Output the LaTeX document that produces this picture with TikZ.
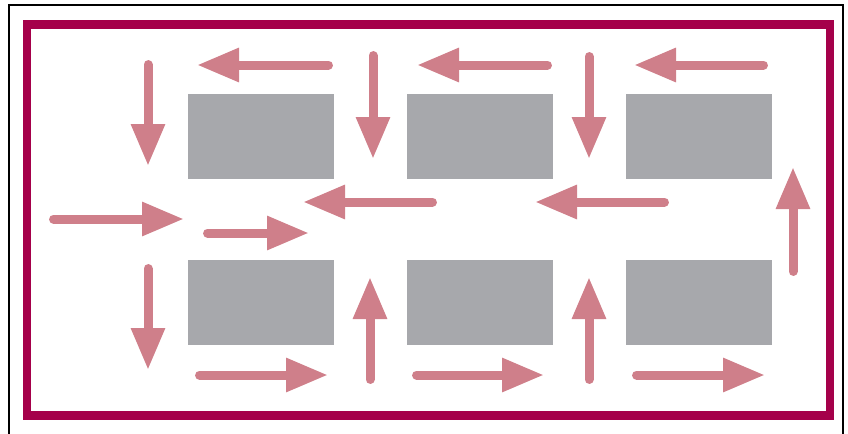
\documentclass[tikz,border=0pt]{standalone}
\usetikzlibrary{arrows.meta}
\definecolor{framered}{HTML}{A5004A}
\definecolor{flowpink}{HTML}{CF7F8A}
\definecolor{boxgray}{HTML}{A7A8AC}
\begin{document}
\begin{tikzpicture}[
  x=0.75pt, y=-0.75pt,
  bay/.style={fill=boxgray, inner sep=0pt, minimum width=109.5pt, minimum height=63.75pt},
  flow/.style={draw=flowpink, line width=6.75pt, line cap=round, shorten <=3.4pt,
               -{Triangle[length=31.5pt, width=24pt]}}
]
\useasboundingbox (0,0) rectangle (848,433);
% outer border and frame
\draw[line width=1.5pt] (9,440) -- (9,5) -- (843,5) -- (843,440);
\draw[framered, line width=6.4pt] (27,24.5) rectangle (830,415.5);
% blocks
\node[bay] (b1) at (260.5,136.5) {};
\node[bay] (b2) at (479.5,136.5) {};
\node[bay] (b3) at (699,136.5) {};
\node[bay] (b4) at (260.5,302.5) {};
\node[bay] (b5) at (479.5,302.5) {};
\node[bay] (b6) at (699,302.5) {};
% top aisle
\draw[flow] (333,65) -- (197,65);
\draw[flow] (552,65) -- (417,65);
\draw[flow] (768,65) -- (634,65);
\draw[flow] (148,60) -- (148,166);
\draw[flow] (373,51) -- (373,159);
\draw[flow] (589,52) -- (589,159);
% middle aisle
\draw[flow] (49,219) -- (184,219);
\draw[flow] (203,233) -- (309,233);
\draw[flow] (437,202) -- (303,202);
\draw[flow] (669,202) -- (535,202);
\draw[flow] (793,276) -- (793,167);
% bottom aisle
\draw[flow] (148,264) -- (148,370);
\draw[flow] (370,384) -- (370,277);
\draw[flow] (589,384) -- (589,277);
\draw[flow] (195,375) -- (328,375);
\draw[flow] (412,375) -- (544,375);
\draw[flow] (632,375) -- (765,375);
\end{tikzpicture}
\end{document}
